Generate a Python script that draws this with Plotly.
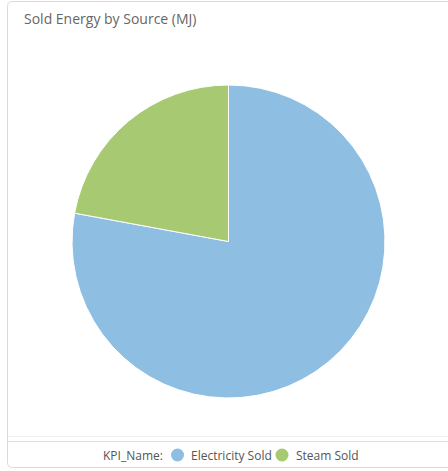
import plotly.graph_objects as go

# Sold energy split by source (share of MJ)
kpi_names = ["Electricity Sold", "Steam Sold"]
sold_mj = [77.9, 22.1]
slice_colors = ["#8ebfe3", "#a6c972"]

W, H = 448, 471


def px_x(x):
    return x / W


def px_y(y):
    return 1 - y / H


fig = go.Figure()

fig.add_trace(go.Pie(
    labels=kpi_names,
    values=sold_mj,
    sort=False,
    direction="clockwise",
    rotation=0,
    marker=dict(colors=slice_colors, line=dict(color="#ffffff", width=1)),
    textinfo="none",
    hoverinfo="label+value+percent",
    showlegend=False,
    domain=dict(x=[px_x(72), px_x(385)], y=[px_y(398), px_y(85)]),
))

# Card outline with rounded left corners
r = 5
x0, y0, x1, y1 = 7.5, 1.5, 470, 467.5
card_path = (
    f"M {px_x(x1)},{px_y(y0)} L {px_x(x0 + r)},{px_y(y0)} "
    f"Q {px_x(x0)},{px_y(y0)} {px_x(x0)},{px_y(y0 + r)} "
    f"L {px_x(x0)},{px_y(y1 - r)} "
    f"Q {px_x(x0)},{px_y(y1)} {px_x(x0 + r)},{px_y(y1)} "
    f"L {px_x(x1)},{px_y(y1)}"
)

shapes = [
    dict(type="path", xref="paper", yref="paper", path=card_path,
         line=dict(color="#d9d9d9", width=1)),
    dict(type="line", xref="paper", yref="paper",
         x0=px_x(8), x1=1, y0=px_y(436.5), y1=px_y(436.5),
         line=dict(color="#f1f1f1", width=1)),
    dict(type="line", xref="paper", yref="paper",
         x0=px_x(8), x1=1, y0=px_y(441.5), y1=px_y(441.5),
         line=dict(color="#dedede", width=1)),
]

annotations = [
    dict(text="Sold Energy by Source (MJ)", xref="paper", yref="paper",
         x=px_x(22), y=px_y(19), xanchor="left", yanchor="middle",
         showarrow=False, font=dict(size=14, color="#666666")),
    dict(text="KPI_Name:", xref="paper", yref="paper",
         x=px_x(165), y=px_y(455), xanchor="right", yanchor="middle",
         showarrow=False, font=dict(size=12, color="#555555")),
]

# Legend row: a round swatch followed by each KPI name
legend_swatch_x = [177.5, 282]
legend_r = 6.5
legend_y = 455
for name, col, cx in zip(kpi_names, slice_colors, legend_swatch_x):
    shapes.append(dict(
        type="circle", xref="paper", yref="paper",
        x0=px_x(cx - legend_r), x1=px_x(cx + legend_r),
        y0=px_y(legend_y + legend_r), y1=px_y(legend_y - legend_r),
        fillcolor=col, line=dict(width=0),
    ))
    annotations.append(dict(
        text=name, xref="paper", yref="paper",
        x=px_x(cx + legend_r + 5), y=px_y(legend_y),
        xanchor="left", yanchor="middle", showarrow=False,
        font=dict(size=12, color="#555555"),
    ))

fig.update_layout(
    width=W, height=H,
    margin=dict(l=0, r=0, t=0, b=0),
    paper_bgcolor="#ffffff",
    plot_bgcolor="#ffffff",
    font=dict(family="Open Sans, sans-serif", size=12, color="#555555"),
    shapes=shapes,
    annotations=annotations,
    showlegend=False,
)

fig.write_html("out.html")
